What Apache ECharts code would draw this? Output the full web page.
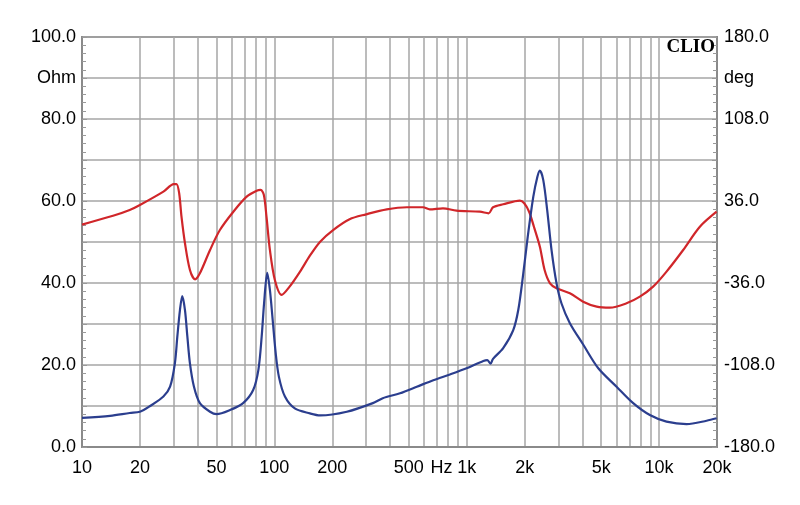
<!DOCTYPE html>
<html>
<head>
<meta charset="utf-8">
<script src="https://cdn.jsdelivr.net/npm/echarts@6/dist/echarts.min.js"></script>
<style>html,body{margin:0;padding:0;background:#fff}#c{width:800px;height:505px}</style>
</head>
<body>
<div id="c"></div>
<script>
// Impedance magnitude (Ohm) vs frequency (Hz)
var impedance = [[10,7.1],[14,7.6],[17.7,8.3],[20,8.6],[22.6,10.0],[26.5,12.3],[28.7,14.7],[30.4,20.4],[31.3,26.9],[32.3,33.4],[33.2,36.8],[34.3,33.4],[35.3,26.9],[36.4,20.4],[38.2,14.7],[41,10.7],[46.3,8.6],[50.1,8.0],[58.8,9.0],[68.8,10.7],[77.6,13.9],[82.6,18.8],[85.9,26.9],[88.4,35.0],[91.8,42.5],[94.8,38.3],[98,31],[101.6,22.9],[105.6,17.1],[113.5,12.3],[127.7,9.4],[153,8.2],[173,7.7],[238,8.6],[325,10.7],[366,11.9],[450,13.1],[550,14.7],[670,16.3],[818,17.7],[998,19.2],[1220,21.0],[1280,21.2],[1330,20.3],[1370,21.5],[1547,24.1],[1745,28.5],[1853,33.4],[1958,41.5],[2076,51.3],[2218,61.0],[2330,65.9],[2400,67.4],[2500,65.1],[2620,57.8],[2760,48],[2930,39.9],[3110,35.0],[3437,30.2],[4030,25.0],[4830,19.2],[6012,14.7],[7331,10.7],[8954,7.8],[10930,6.2],[13900,5.6],[17660,6.4],[19900,7.0]];
// Phase (deg) vs frequency (Hz)
var phase = [[10,15.3],[14.5,23.0],[17.7,28.1],[20,32.5],[26.5,44.2],[30,50.9],[31,50.9],[32,42.8],[32.9,22.2],[34.3,-1.1],[36.4,-24.6],[38.7,-32.8],[41,-27.5],[46.3,-7],[52.1,10.5],[61.2,26.6],[71.8,39.8],[80.9,45],[84.8,45.7],[88.2,41.3],[91,22.2],[94.8,-7],[100.6,-33.4],[109,-46.5],[120,-39.2],[136,-26],[153,-12],[173,0.3],[202,10.5],[246,20],[300,24.3],[384,28.7],[489,30.5],[593,30.5],[642,28.7],[752,29.6],[884,27.5],[1170,26.6],[1300,25.2],[1370,30.5],[1547,33.1],[1890,36.3],[1990,34],[2110,26.6],[2235,13.4],[2400,-4.1],[2540,-24.6],[2710,-36.3],[2930,-40.6],[3437,-45],[4030,-52.4],[4740,-56.8],[5548,-57.7],[6773,-53.8],[7943,-48],[9310,-39.2],[10930,-26],[13340,-7],[16290,13.4],[19900,26.6]];

var gridFreqs = [10,20,30,40,50,60,70,80,90,100,200,300,400,500,600,700,800,900,1000,2000,3000,4000,5000,6000,7000,8000,9000,10000,20000];
var xLabelValues = [10,20,50,100,200,500,740,1000,2000,5000,10000,20000];
var xLabelTexts = ['10','20','50','100','200','500','Hz','1k','2k','5k','10k','20k'];
var leftLabels = {0:'0.0',20:'20.0',40:'40.0',60:'60.0',80:'80.0',90:'Ohm',100:'100.0'};
var rightLabels = {'-180':'-180.0','-108':'-108.0','-36':'-36.0','36':'36.0','108':'108.0','144':'deg','180':'180.0'};

var FONT = 'Liberation Sans, Arial, sans-serif';
var chart = echarts.init(document.getElementById('c'), null, {renderer:'canvas'});
chart.setOption({
  animation:false,
  backgroundColor:'#fff',
  grid:{left:82,right:83,top:37,bottom:58,show:true,borderColor:'#8a8a8a',borderWidth:2,backgroundColor:'transparent'},
  xAxis:{
    type:'log', logBase:10, min:10, max:20000,
    axisLine:{show:true,lineStyle:{color:'#8a8a8a',width:2}},
    axisTick:{show:true,length:0,customValues:gridFreqs},
    splitLine:{show:true,lineStyle:{color:'#a6a6a6',width:1.5}},
    minorTick:{show:false}, minorSplitLine:{show:false},
    axisLabel:{customValues:xLabelValues,margin:12,color:'#000',fontSize:18,fontFamily:FONT,
      formatter:function(v){var best=0,d=1e9;for(var i=0;i<xLabelValues.length;i++){var dd=Math.abs(Math.log(v)-Math.log(xLabelValues[i]));if(dd<d){d=dd;best=i;}}return xLabelTexts[best];}}
  },
  yAxis:[{
    type:'value', min:0, max:100, interval:10, position:'left',
    axisLine:{show:true,lineStyle:{color:'#8a8a8a',width:2}},
    axisTick:{show:true,inside:true,length:5,lineStyle:{color:'#999'}},
    minorTick:{show:true,splitNumber:5,length:4,lineStyle:{color:'#999'}},
    splitLine:{show:true,lineStyle:{color:'#a6a6a6',width:1.5}},
    axisLabel:{margin:6,color:'#000',fontSize:18,fontFamily:FONT,showMinLabel:true,showMaxLabel:true,
      formatter:function(v){var k=Math.round(v);return leftLabels[k]!==undefined?leftLabels[k]:'';}}
  },{
    type:'value', min:-180, max:180, interval:36, position:'right',
    axisLine:{show:true,lineStyle:{color:'#8a8a8a',width:2}},
    axisTick:{show:true,inside:true,length:5,lineStyle:{color:'#999'}},
    minorTick:{show:true,splitNumber:5,length:4,lineStyle:{color:'#999'}},
    splitLine:{show:false},
    axisLabel:{margin:7,color:'#000',fontSize:18,fontFamily:FONT,showMinLabel:true,showMaxLabel:true,
      formatter:function(v){var k=String(Math.round(v));return rightLabels[k]!==undefined?rightLabels[k]:'';}}
  }],
  graphic:[{type:'text',z:100,style:{x:715,y:47,text:'CLIO',textAlign:'right',textVerticalAlign:'middle',font:'bold 19px "Liberation Serif", "Times New Roman", serif',fill:'#000'}}],
  series:[
    {name:'Phase',type:'line',yAxisIndex:1,data:phase,showSymbol:false,smooth:0.3,lineStyle:{color:'#d0262a',width:2.2},itemStyle:{color:'#d0262a'}},
    {name:'Impedance',type:'line',yAxisIndex:0,data:impedance,showSymbol:false,smooth:0.3,lineStyle:{color:'#2b3e8e',width:2.2},itemStyle:{color:'#2b3e8e'}}
  ]
});
</script>
</body>
</html>
